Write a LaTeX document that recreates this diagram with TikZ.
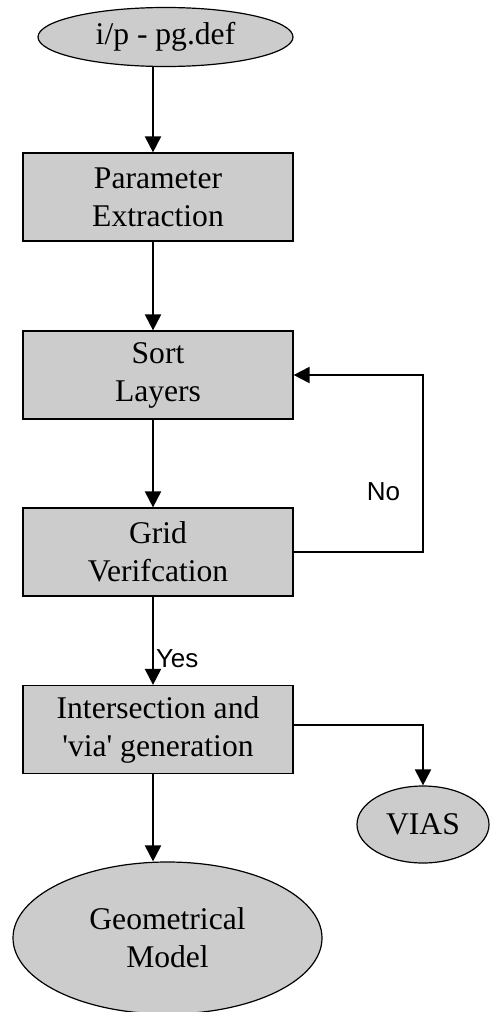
\documentclass[tikz,border=0pt]{standalone}
\usepackage{fontspec}
\setmainfont{Liberation Serif}[Ligatures=TeXOff]
\setsansfont{Liberation Sans}
\usetikzlibrary{arrows.meta,shapes.geometric}
\definecolor{boxgray}{HTML}{CCCCCC}
\begin{document}
\begin{tikzpicture}
    [
        x = 0.5pt, y = -0.5pt,
        process/.style = {draw, fill = boxgray, line width = 0.6pt, inner sep = 0pt,
                minimum width = 135pt, minimum height = 44pt, align = center,
                font = \fontsize{15.8}{19}\selectfont},
        terminal/.style = {ellipse, draw, fill = boxgray, line width = 0.6pt, inner sep = 0pt,
                align = center, font = \fontsize{15.8}{19}\selectfont},
        flow/.style = {line width = 1pt, -{Triangle[width = 8pt, length = 8pt]}},
        lbl/.style = {font = \sffamily\fontsize{13}{15}\selectfont, inner sep = 1pt},
    ]

    \useasboundingbox (0,0) rectangle (489,1012);

    \coordinate (axis) at (153,0);
    \coordinate (loopx) at (423,0);

    \node[terminal, minimum width = 127.5pt, minimum height = 29.5pt] (input) at (165.5,37) {i/p - pg.def};
    \node[process] (paramext) at (158,197) {Parameter\\Extraction};
    \node[process] (sortlayers) at (158,375) {Sort\\Layers};
    \node[process] (gridver) at (158,552) {Grid\\Verifcation};
    \node[process] (intersect) at (158,729.5) {Intersection and\\'via' generation};
    \node[terminal, minimum width = 66pt, minimum height = 38.5pt] (vias) at (423,824.5) {VIAS};
    \node[terminal, minimum width = 154.5pt, minimum height = 76pt] (geomodel) at (167.5,938) {Geometrical\\Model};

    \foreach \a/\b in {input/paramext, paramext/sortlayers, sortlayers/gridver, intersect/geomodel}{
            \draw[flow] (\a.south -| axis) -- (\b.north -| axis);
        }

    \draw[flow] (gridver.south -| axis) -- node[lbl, right, pos = 0.7] {Yes} (intersect.north -| axis);

    \draw[flow] (gridver.east) -- (gridver.east -| loopx)
    -- node[lbl, left = 10pt, pos = 0.34] {No} (sortlayers.east -| loopx) -- (sortlayers.east);

    \draw[flow] ([yshift = 2.5pt]intersect.east) -| (vias.north);

\end{tikzpicture}
\end{document}
